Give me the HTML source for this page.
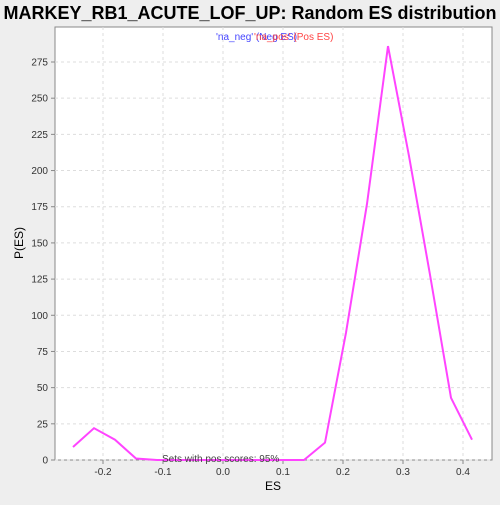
<!DOCTYPE html>
<html><head><meta charset="utf-8"><style>
body{margin:0;background:#eeeeee;font-family:"Liberation Sans",sans-serif}
</style></head><body>
<svg width="500" height="500" xmlns="http://www.w3.org/2000/svg">
<rect width="500" height="500" fill="#eeeeee"/>
<text x="250" y="19" text-anchor="middle" font-size="18" font-weight="bold" fill="#000" font-family="Liberation Sans, sans-serif">MARKEY_RB1_ACUTE_LOF_UP: Random ES distribution</text>
<rect x="55" y="27" width="437" height="433" fill="#fff" stroke="#888"/>
<g id="grid"></g><g id="axes"></g>
<polyline id="line" fill="none" stroke="#ff44ff" stroke-width="2"/>
<text x="216" y="40" font-size="10" fill="#4444ff">'na_neg' (Neg ES)</text>
<text x="254" y="40" font-size="10" fill="#ff4444">'na_pos' (Pos ES)</text>
<text x="162" y="462" font-size="10" fill="#444">Sets with pos scores: 95%</text>
<text x="273" y="490" text-anchor="middle" font-size="12">ES</text>
<text x="23" y="243" text-anchor="middle" font-size="12" transform="rotate(-90 23 243)">P(ES)</text>
</svg>
<script>
const xs=[-0.25,-0.215,-0.18,-0.145,-0.11,-0.075,-0.04,-0.005,0.03,0.065,0.1,0.135,0.17,0.205,0.24,0.275,0.31,0.345,0.38,0.415];
const ys=[9,22,14,1,0,0,0,0,0,0,0,0,12,88,177,286,210,128,43,14];
const xTicks=[-0.2,-0.1,0.0,0.1,0.2,0.3,0.4];
const xLabels=["-0.2","-0.1","0.0","0.1","0.2","0.3","0.4"];
const yTicks=[0,25,50,75,100,125,150,175,200,225,250,275];
function X(v){return 223+v*600;}
function Y(v){return 460-v*398/275;}
const ns="http://www.w3.org/2000/svg";
const g=document.getElementById('grid'),a=document.getElementById('axes');
function mk(t,at,p){const e=document.createElementNS(ns,t);for(const k in at)e.setAttribute(k,at[k]);p.appendChild(e);return e;}
xTicks.forEach((v,i)=>{
 const l=mk('line',{x1:X(v),x2:X(v),y1:27,y2:460,stroke:'#ddd','stroke-dasharray':'3,3'},g);
 
 
 mk('line',{x1:X(v),x2:X(v),y1:460,y2:464,stroke:'#888'},a);
 const t=mk('text',{x:X(v),y:475,'text-anchor':'middle','font-size':'10',fill:'#333'},a);t.textContent=xLabels[i];
 
 
});
yTicks.forEach(v=>{
 const l=mk('line',{x1:55,x2:492,y1:Y(v),y2:Y(v),stroke:'#ddd','stroke-dasharray':'3,3'},g);
 
 
 mk('line',{x1:51,x2:55,y1:Y(v),y2:Y(v),stroke:'#888'},a);
 const t=mk('text',{x:48,y:Y(v)+3.5,'text-anchor':'end','font-size':'10',fill:'#333'},a);t.textContent=v;
 
 
});
document.getElementById('line').setAttribute('points',xs.map((x,i)=>X(x)+','+Y(ys[i])).join(' '));
</script>
</body></html>
